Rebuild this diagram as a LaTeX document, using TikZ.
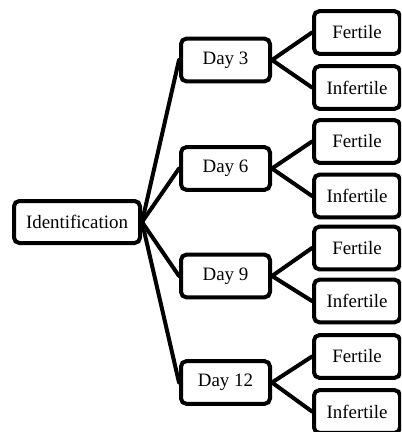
\documentclass[tikz,border=0pt]{standalone}
\usepackage{fontspec}
\setmainfont{Liberation Serif}
\begin{document}
\begin{tikzpicture}[x=0.75pt,y=-0.75pt,
  box/.style={draw=black,line width=3pt,rounded corners=4pt,fill=white,
    inner sep=0pt,font=\fontsize{14.2}{16}\selectfont},
  idbox/.style={box,minimum width=94.5pt,minimum height=31.5pt},
  daybox/.style={box,minimum width=66.75pt,minimum height=32pt},
  resbox/.style={box,minimum width=64.5pt,minimum height=32pt},
  link/.style={line width=3pt,line cap=round}]
\useasboundingbox (0,0) rectangle (401,432);
\clip (0,0) rectangle (401,432);
\fill[white] (0,0) rectangle (401,432);
% nodes
\node[idbox] (id) at (77,222) {Identification};
\node[daybox] (d3) at (225.5,60) {Day 3};
\node[daybox] (d6) at (225.5,168.5) {Day 6};
\node[daybox] (d9) at (225.5,276) {Day 9};
\node[daybox] (d12) at (225.5,382.5) {Day 12};
\node[resbox] (f3) at (357,32.5) {Fertile};
\node[resbox] (i3) at (357,87.5) {Infertile};
\node[resbox] (f6) at (357,141.5) {Fertile};
\node[resbox] (i6) at (357,196) {Infertile};
\node[resbox] (f9) at (357,248) {Fertile};
\node[resbox] (i9) at (357,301) {Infertile};
\node[resbox] (f12) at (357,356.5) {Fertile};
\node[resbox] (i12) at (357,411.5) {Infertile};
% connectors
\foreach \d in {d3,d6,d9,d12}{
  \draw[link] (id.east) -- (\d.west);
}
\foreach \d/\f/\i in {d3/f3/i3,d6/f6/i6,d9/f9/i9,d12/f12/i12}{
  \draw[link] (\d.east) -- (\f.west);
  \draw[link] (\d.east) -- (\i.west);
}
\end{tikzpicture}
\end{document}
